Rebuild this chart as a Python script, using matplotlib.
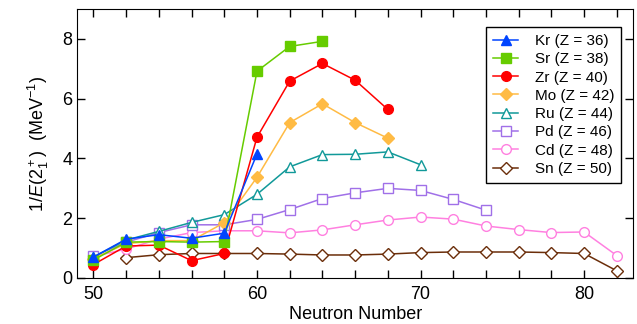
import numpy as np
import matplotlib.pyplot as plt
from matplotlib.ticker import MultipleLocator

plt.rcParams['font.family'] = ['Liberation Sans', 'DejaVu Sans']
plt.rcParams['mathtext.fontset'] = 'custom'
plt.rcParams['mathtext.rm'] = 'Liberation Sans'
plt.rcParams['mathtext.it'] = 'Liberation Sans:italic'

# 1/E(2+) values per element, by neutron number
kr_n = [50, 52, 54, 56, 58, 60]
kr_v = [0.70, 1.30, 1.45, 1.33, 1.50, 4.15]

sr_n = [50, 52, 54, 56, 58, 60, 62, 64]
sr_v = [0.60, 1.20, 1.22, 1.20, 1.22, 6.92, 7.75, 7.92]

zr_n = [50, 52, 54, 56, 58, 60, 62, 64, 66, 68]
zr_v = [0.45, 1.07, 1.10, 0.58, 0.82, 4.71, 6.59, 7.18, 6.62, 5.64]

mo_n = [50, 52, 54, 56, 58, 60, 62, 64, 66, 68]
mo_v = [0.65, 1.15, 1.25, 1.25, 1.85, 3.37, 5.20, 5.83, 5.20, 4.68]

ru_n = [50, 52, 54, 56, 58, 60, 62, 64, 66, 68, 70]
ru_v = [0.70, 1.27, 1.56, 1.86, 2.12, 2.80, 3.72, 4.13, 4.14, 4.22, 3.79]

pd_n = [50, 52, 54, 56, 58, 60, 62, 64, 66, 68, 70, 72, 74]
pd_v = [0.72, 1.20, 1.52, 1.78, 1.78, 1.96, 2.29, 2.66, 2.85, 3.00, 2.93, 2.63, 2.27]

cd_n = [50, 52, 54, 56, 58, 60, 62, 64, 66, 68, 70, 72, 74, 76, 78, 80, 82]
cd_v = [0.72, 0.97, 1.30, 1.52, 1.58, 1.58, 1.51, 1.61, 1.78, 1.94, 2.04, 1.97,
        1.74, 1.62, 1.52, 1.54, 0.75]

sn_n = [52, 54, 56, 58, 60, 62, 64, 66, 68, 70, 72, 74, 76, 78, 80, 82]
sn_v = [0.68, 0.78, 0.82, 0.82, 0.82, 0.80, 0.77, 0.77, 0.80, 0.85, 0.87, 0.87,
        0.87, 0.85, 0.82, 0.24]

series = [
    ('Kr (Z = 36)', kr_n, kr_v, '#0044ff', '^', True),
    ('Sr (Z = 38)', sr_n, sr_v, '#66cc00', 's', True),
    ('Zr (Z = 40)', zr_n, zr_v, '#ff0000', 'o', True),
    ('Mo (Z = 42)', mo_n, mo_v, '#ffbb44', 'D', True),
    ('Ru (Z = 44)', ru_n, ru_v, '#119999', '^', False),
    ('Pd (Z = 46)', pd_n, pd_v, '#a070e8', 's', False),
    ('Cd (Z = 48)', cd_n, cd_v, '#ff80e0', 'o', False),
    ('Sn (Z = 50)', sn_n, sn_v, '#6b2e0a', 'D', False),
]

fig = plt.figure(figsize=(6.37, 3.24), dpi=100)
ax = fig.add_axes([0.121, 0.142, 0.873, 0.830])

# draw in reverse so Kr ends up on top
for label, n, v, color, marker, filled in series[::-1]:
    size = 6 if marker == 'D' else 7
    ax.plot(n, v, color=color, marker=marker, markersize=size, linewidth=1.1,
            markerfacecolor=color if filled else 'white', markeredgewidth=1.0,
            label=label)

ax.set_xlim(49, 83)
ax.set_ylim(0, 9)
ax.xaxis.set_major_locator(MultipleLocator(10))
ax.xaxis.set_minor_locator(MultipleLocator(2))
ax.yaxis.set_major_locator(MultipleLocator(2))
ax.tick_params(which='both', direction='in', top=True, right=True, labelsize=13)
ax.tick_params(which='major', length=6, width=1)
ax.tick_params(which='minor', length=6, width=1)
ax.tick_params(axis='x', pad=6)

ax.set_xlabel('Neutron Number', fontsize=13, labelpad=2)
ax.set_ylabel(r'1/$E$(2$_1^+$)  (MeV$^{-1}$)', fontsize=13, labelpad=8)

handles, labels = ax.get_legend_handles_labels()
leg = ax.legend(handles[::-1], labels[::-1], loc='upper right',
                bbox_to_anchor=(0.978, 0.933), borderaxespad=0,
                fontsize=11, handlelength=1.6, handletextpad=1.1,
                labelspacing=0.28, borderpad=0.45,
                fancybox=False, framealpha=1)
leg.get_frame().set_edgecolor('black')
leg.get_frame().set_linewidth(1.0)

plt.savefig('out.png', dpi=100)
